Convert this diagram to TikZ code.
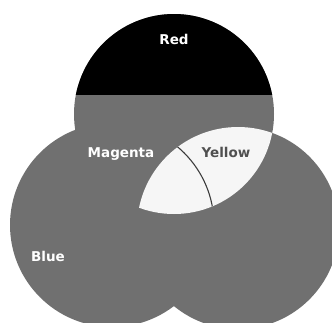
\documentclass[tikz,border=0pt]{standalone}
\usepackage{fontspec}
\setsansfont{DejaVu Sans}
\definecolor{setgray}{HTML}{707070}
\definecolor{lensfill}{HTML}{F6F6F6}
\definecolor{rimgray}{HTML}{3C3C3C}
\definecolor{darktext}{HTML}{505050}
\begin{document}
\begin{tikzpicture}[
    x=1pt,y=-1pt,
    disc/.style={fill=setgray},
    lens/.style={fill=lensfill},
    rim/.style={draw=rimgray,line width=1.1pt},
    lbl/.style={font=\sffamily\bfseries\fontsize{13.5}{15}\selectfont,anchor=base,text=white,inner sep=0pt}
]
    \useasboundingbox (0,0) rectangle (332,322);
    \fill[white] (0,0) rectangle (332,322);

    \coordinate (ctop) at (174,114);
    \coordinate (cleft) at (112,225);
    \coordinate (cright) at (238,228);

    % the three discs
    \fill[disc] (ctop) circle[radius=100pt];
    \fill[disc] (cleft) circle[radius=102pt];
    \fill[disc] (cright) circle[radius=101pt];

    % overlap of top and right disc
    \begin{scope}
        \clip (ctop) circle[radius=100pt];
        \clip (cright) circle[radius=101pt];
        \fill[lens] (cright) circle[radius=101pt];
        \draw[rim] (cleft) circle[radius=102pt];
    \end{scope}

    % upper cap of the top disc
    \begin{scope}
        \clip (0,0) rectangle (332,94);
        \fill[black] (ctop) circle[radius=100pt];
    \end{scope}

    \node[lbl] (red) at (174,44) {Red};
    \node[lbl] (magenta) at (121,157) {Magenta};
    \node[lbl,text=darktext] (yellow) at (226,157) {Yellow};
    \node[lbl] (blue) at (48,261) {Blue};
\end{tikzpicture}
\end{document}
